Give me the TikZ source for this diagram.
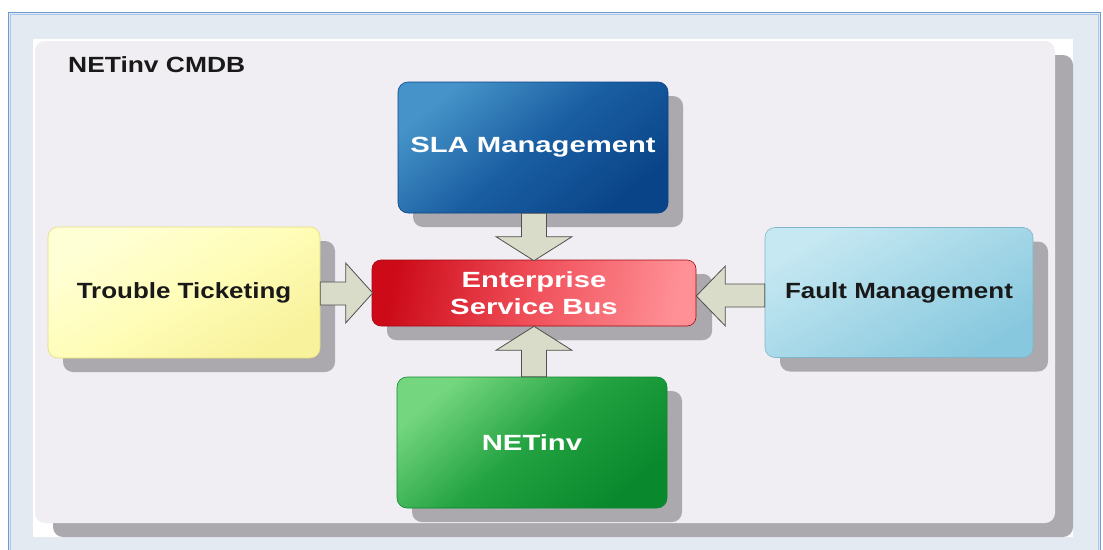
\documentclass[tikz,border=0pt]{standalone}
\usepackage{fontspec}
\setmainfont{Liberation Sans}
\newfontfamily\widew[FakeStretch=1.33]{Liberation Sans}
\newfontfamily\widen[FakeStretch=1.18]{Liberation Sans}
\newfontfamily\widet[FakeStretch=1.2]{Liberation Sans}
\usetikzlibrary{shadows,calc}
\definecolor{framebg}{HTML}{E3EAF2}
\definecolor{frameline}{HTML}{6C9BD2}
\definecolor{frameline2}{HTML}{A9C6EA}
\definecolor{panelc}{HTML}{F1EEF3}
\definecolor{shadowc}{HTML}{ABA9AD}
\definecolor{arrowc}{HTML}{D9DCC8}
\definecolor{arrowd}{HTML}{505050}
\definecolor{blueA}{HTML}{4593C8}
\definecolor{blueB}{HTML}{1A5EA2}
\definecolor{blueC}{HTML}{0A4488}
\definecolor{greenA}{HTML}{74D67E}
\definecolor{greenB}{HTML}{22A240}
\definecolor{greenC}{HTML}{0A882D}
\definecolor{redA}{HTML}{CC0A18}
\definecolor{redB}{HTML}{F0505A}
\definecolor{redC}{HTML}{FF9096}
\definecolor{yelA}{HTML}{FFFFD6}
\definecolor{yelB}{HTML}{FFFDB8}
\definecolor{yelC}{HTML}{F8F29C}
\definecolor{yelD}{HTML}{E4DC7A}
\definecolor{cyanA}{HTML}{C6E8F2}
\definecolor{cyanB}{HTML}{A6D8E8}
\definecolor{cyanC}{HTML}{88C8DE}
\definecolor{cyanD}{HTML}{7FB5C9}
\tikzset{
  box/.style={rounded corners=10pt, minimum height=131pt, align=center,
    drop shadow={shadow xshift=15pt, shadow yshift=-14pt, fill=shadowc, opacity=1}},
  whitetext/.style={text=white, font=\widew\bfseries\fontsize{22}{28}\selectfont},
  blacktext/.style={text=black!90, font=\widen\bfseries\fontsize{22}{28}\selectfont},
  barrow/.style={fill=arrowc, draw=arrowd, line width=0.8pt, line join=miter},
}
\begin{document}
\begin{tikzpicture}[x=1pt,y=-1pt]
\useasboundingbox (0,0) rectangle (1103,549);
% outer frame
\fill[white] (0,0) rectangle (1103,549);
\fill[framebg] (8,12) rectangle (1101,560);
\draw[frameline, line width=1pt] (8.5,600) -- (8.5,12.5) -- (1100.5,12.5) -- (1100.5,600);
\draw[frameline2, line width=1pt] (10.5,600) -- (10.5,14.5) -- (1098.5,14.5) -- (1098.5,600);
% white image area
\fill[white] (33,39) rectangle (1073,537);
% panel shadow and panel
\fill[shadowc, rounded corners=10pt] (53,55) rectangle (1073,537);
\fill[panelc, rounded corners=10pt] (35,41) rectangle (1055,523);
\node[anchor=base west, inner sep=0pt, text=black!90, font=\widet\bfseries\fontsize{22}{26}\selectfont] (title) at (68,72) {NETinv CMDB};

% boxes
\node[box, minimum width=270pt, draw=blueC, line width=0.6pt,
  top color=blueA, bottom color=blueC, middle color=blueB, shading angle=40,
  whitetext] (sla) at (533,147.5) {SLA Management};
\node[box, minimum width=270pt, draw=greenC, line width=0.6pt,
  top color=greenA, bottom color=greenC, middle color=greenB, shading angle=40,
  whitetext] (netinv) at (532,442.5) {NETinv};
\node[box, minimum width=272pt, draw=yelD, line width=0.6pt,
  top color=yelA, bottom color=yelC, middle color=yelB, shading angle=30,
  blacktext] (tt) at (184,292.5) {Trouble Ticketing};
\node[box, minimum width=268pt, minimum height=130pt, draw=cyanD, line width=0.6pt,
  top color=cyanA, bottom color=cyanC, middle color=cyanB, shading angle=30,
  blacktext] (fm) at (899,292.5) {Fault Management};
\node[box, minimum width=324pt, minimum height=66pt, rounded corners=9pt, draw=redA!80!black, line width=0.6pt,
  left color=redA, right color=redC, middle color=redB, shading angle=80,
  whitetext, drop shadow={shadow xshift=16pt, shadow yshift=-14pt, fill=shadowc, opacity=1}] (esb) at (534,293) {Enterprise\\[-1pt]Service Bus};

% block arrows
% SLA -> ESB (down)
\draw[barrow] ($(esb.north |- sla.south)+(-12.5,0)$) -- ($(esb.north)+(-12.5,-23)$) -- ($(esb.north)+(-38,-23)$)
  -- ($(esb.north)+(0,1)$) -- ($(esb.north)+(38,-23)$) -- ($(esb.north)+(12.5,-23)$) -- ($(esb.north |- sla.south)+(12.5,0)$) -- cycle;
% NETinv -> ESB (up)
\draw[barrow] ($(esb.south |- netinv.north)+(-12.5,0)$) -- ($(esb.south)+(-12.5,24)$) -- ($(esb.south)+(-38,24)$)
  -- ($(esb.south)+(0,0)$) -- ($(esb.south)+(38,24)$) -- ($(esb.south)+(12.5,24)$) -- ($(esb.south |- netinv.north)+(12.5,0)$) -- cycle;
% TT -> ESB (right)
\draw[barrow] ($(tt.east |- esb.west)+(0,-11)$) -- ($(esb.west)+(-26,-11)$) -- ($(esb.west)+(-26,-30)$)
  -- ($(esb.west)+(1,0)$) -- ($(esb.west)+(-26,30)$) -- ($(esb.west)+(-26,12)$) -- ($(tt.east |- esb.west)+(0,12)$) -- cycle;
% FM -> ESB (left)
\draw[barrow] ($(fm.west |- esb.east)+(0,-9)$) -- ($(esb.east)+(29,-9)$) -- ($(esb.east)+(29,-27)$)
  -- ($(esb.east)+(0,3)$) -- ($(esb.east)+(29,33)$) -- ($(esb.east)+(29,14)$) -- ($(fm.west |- esb.east)+(0,14)$) -- cycle;
\end{tikzpicture}
\end{document}
